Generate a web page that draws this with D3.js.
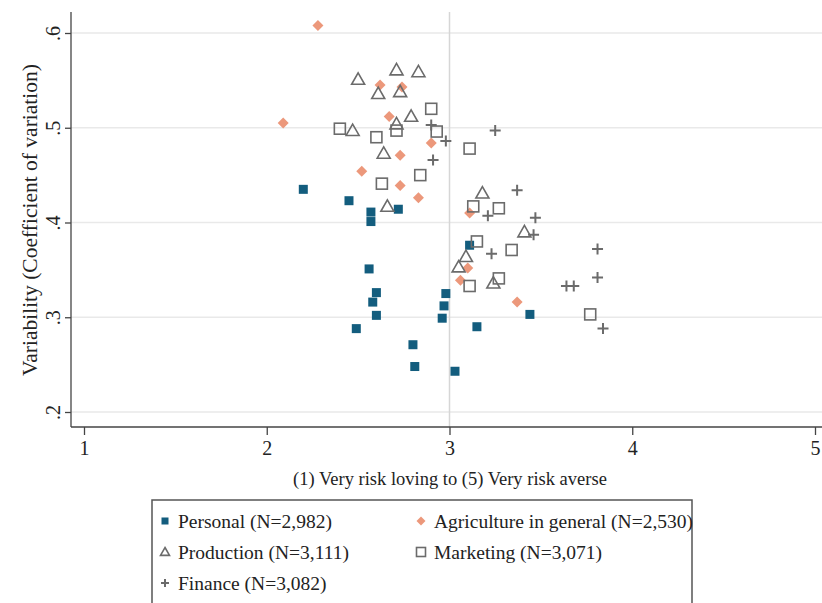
<!DOCTYPE html>
<html><head><meta charset="utf-8">
<script src="https://cdn.jsdelivr.net/npm/d3@7"></script>
<style>
body{margin:0;background:#fff}
svg{display:block}
text{font-family:"Liberation Serif","Times New Roman",serif;fill:#222}
</style>
</head><body><svg id="c" width="822" height="603"></svg>
<script>
// ---- data ----
const xTicks = [1, 2, 3, 4, 5];
const yTicks = [0.2, 0.3, 0.4, 0.5, 0.6];
const yTickLabels = [".2", ".3", ".4", ".5", ".6"];
const xTitle = "(1) Very risk loving to (5) Very risk averse";
const yTitle = "Variability (Coefficient of variation)";

const seriesNames = ["Personal (N=2,982)", "Agriculture in general (N=2,530)", "Production (N=3,111)", "Marketing (N=3,071)", "Finance (N=3,082)"];

const personalX = [2.20, 2.45, 2.57, 2.57, 2.72, 2.56, 2.60, 2.58, 2.60, 2.49, 2.98, 2.97, 2.96, 2.80, 2.81, 3.03, 3.15, 3.44, 3.11];
const personalY = [0.435, 0.423, 0.411, 0.401, 0.414, 0.351, 0.326, 0.316, 0.302, 0.288, 0.325, 0.312, 0.299, 0.271, 0.248, 0.243, 0.290, 0.303, 0.376];

const agricultureX = [2.28, 2.09, 2.62, 2.74, 2.67, 2.90, 2.73, 2.52, 2.73, 2.83, 3.11, 3.10, 3.06, 3.37];
const agricultureY = [0.608, 0.505, 0.545, 0.543, 0.512, 0.484, 0.471, 0.454, 0.439, 0.426, 0.410, 0.352, 0.339, 0.316];

const productionX = [2.50, 2.71, 2.83, 2.61, 2.73, 2.79, 2.47, 2.71, 2.64, 2.66, 3.18, 3.41, 3.09, 3.05, 3.24];
const productionY = [0.551, 0.561, 0.559, 0.536, 0.538, 0.512, 0.497, 0.504, 0.473, 0.417, 0.431, 0.390, 0.364, 0.353, 0.336];

const marketingX = [2.90, 2.40, 2.60, 2.71, 2.93, 3.11, 2.84, 2.63, 3.13, 3.27, 3.15, 3.34, 3.11, 3.27, 3.77];
const marketingY = [0.520, 0.499, 0.490, 0.497, 0.496, 0.478, 0.450, 0.441, 0.417, 0.415, 0.380, 0.371, 0.333, 0.341, 0.303];

const financeX = [2.90, 2.98, 3.25, 2.91, 3.37, 3.21, 3.47, 3.46, 3.23, 3.81, 3.81, 3.64, 3.68, 3.84];
const financeY = [0.503, 0.486, 0.497, 0.466, 0.434, 0.407, 0.405, 0.387, 0.367, 0.372, 0.342, 0.333, 0.333, 0.288];

// ---- drawing ----
const svg = d3.select("#c");
const blue = "#135d7e", orange = "#ec987b", gray = "#6b6b6b";
const pLeft = 71, pBottom = 427, pTop = 12, pRight = 822;

const x = d3.scaleLinear().domain([1, 5]).range([84, 815]);
const y = d3.scaleLinear().domain([0.2, 0.6]).range([412, 33]);

// grid
svg.append("g").selectAll("line").data(yTicks).join("line")
  .attr("x1", pLeft).attr("x2", pRight)
  .attr("y1", d => y(d)).attr("y2", d => y(d))
  .attr("stroke", "#e9e9e9").attr("stroke-width", 1.5);
svg.append("line").attr("x1", x(3)).attr("x2", x(3)).attr("y1", pTop).attr("y2", pBottom)
  .attr("stroke", "#d6d6d6").attr("stroke-width", 1.5);

// axes
const gx = svg.append("g").attr("transform", `translate(0,${pBottom})`)
  .call(d3.axisBottom(x).tickValues(xTicks).tickFormat(d3.format("d")).tickSize(8).tickSizeOuter(0));
gx.select(".domain").remove();
gx.selectAll("line").attr("stroke", "#444").attr("stroke-width", 1.3);
gx.selectAll("text").attr("font-size", 20).attr("y", 14).attr("dy", "0.71em").attr("fill", "#222").attr("font-family", "Liberation Serif");

const gy = svg.append("g").attr("transform", `translate(${pLeft},0)`)
  .call(d3.axisLeft(y).tickValues(yTicks).tickFormat((d, i) => yTickLabels[i]).tickSize(6).tickSizeOuter(0));
gy.select(".domain").remove();
gy.selectAll("line").attr("stroke", "#444").attr("stroke-width", 1.3);
gy.selectAll("text").attr("font-size", 20).attr("fill", "#222").attr("font-family", "Liberation Serif")
  .attr("x", 0).attr("y", 0).attr("dy", 0)
  .attr("transform", "translate(-11,0) rotate(-90)")
  .attr("text-anchor", "middle");

svg.append("line").attr("x1", pLeft).attr("x2", pLeft).attr("y1", pTop).attr("y2", pBottom).attr("stroke", "#444").attr("stroke-width", 1.3);
svg.append("line").attr("x1", pLeft).attr("x2", pRight).attr("y1", pBottom).attr("y2", pBottom).attr("stroke", "#444").attr("stroke-width", 1.3);

// titles
svg.append("text").attr("x", 450).attr("y", 485).attr("text-anchor", "middle").attr("font-size", 18.5).text(xTitle);
svg.append("text").attr("transform", "translate(37,220) rotate(-90)").attr("text-anchor", "middle").attr("font-size", 21.5).text(yTitle);

// marker shapes
function drawMarker(g, kind, cx, cy, s) {
  if (kind === 0) {
    g.append("rect").attr("x", cx - s / 2).attr("y", cy - s / 2).attr("width", s).attr("height", s).attr("fill", blue);
  } else if (kind === 1) {
    const h = s / 2;
    g.append("path").attr("d", `M${cx},${cy - h}L${cx + h},${cy}L${cx},${cy + h}L${cx - h},${cy}Z`).attr("fill", orange);
  } else if (kind === 2) {
    const h = s / 2;
    g.append("path").attr("d", `M${cx},${cy - h}L${cx + h},${cy + h * 0.75}L${cx - h},${cy + h * 0.75}Z`)
      .attr("fill", "none").attr("stroke", gray).attr("stroke-width", 1.6);
  } else if (kind === 3) {
    g.append("rect").attr("x", cx - s / 2).attr("y", cy - s / 2).attr("width", s).attr("height", s)
      .attr("fill", "none").attr("stroke", gray).attr("stroke-width", 1.6);
  } else {
    const h = s / 2;
    g.append("path").attr("d", `M${cx - h},${cy}H${cx + h}M${cx},${cy - h}V${cy + h}`)
      .attr("stroke", gray).attr("stroke-width", 2);
  }
}

const series = [
  [personalX, personalY, 9],
  [agricultureX, agricultureY, 11],
  [productionX, productionY, 13],
  [marketingX, marketingY, 11],
  [financeX, financeY, 11]
];
const pts = svg.append("g");
series.forEach(([xs, ys, s], k) => {
  xs.forEach((v, i) => drawMarker(pts, k, x(v), y(ys[i]), s));
});

// legend
svg.append("rect").attr("x", 152).attr("y", 500).attr("width", 540).attr("height", 130)
  .attr("fill", "#fff").attr("stroke", "#555").attr("stroke-width", 1.5);
const legPos = [[165, 521], [421, 521], [165, 552], [421, 552], [165, 583]];
const legSize = [7, 9, 9, 9, 8];
seriesNames.forEach((n, k) => {
  const [lx, ly] = legPos[k];
  drawMarker(svg, k, lx, ly, legSize[k]);
  svg.append("text").attr("x", lx + 13).attr("y", ly + 7).attr("font-size", 19.5).text(n);
});
</script>
</body></html>
